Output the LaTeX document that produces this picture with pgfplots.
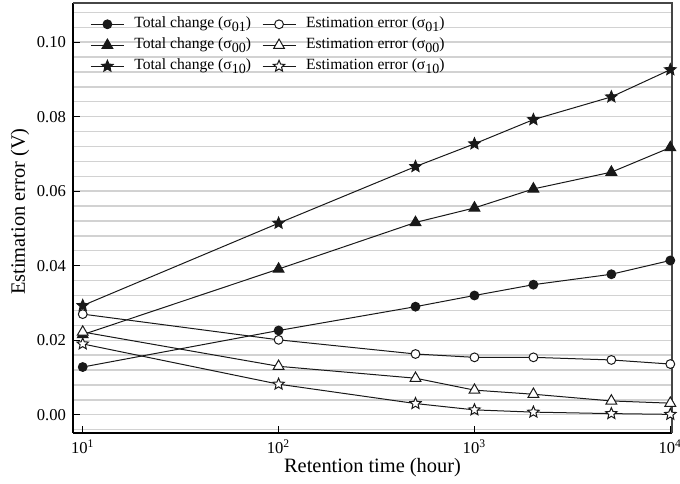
\documentclass[border=0pt]{standalone}
\usepackage{fontspec}
\setmainfont{Liberation Serif}
\usepackage{graphicx}
\usepackage{pgfplots}
\pgfplotsset{compat=1.18}

% five-pointed star outline usable as a filled or open mark
\pgfdeclareplotmark{pstar}{%
  \pgfpathmoveto{\pgfpointpolar{90}{\pgfplotmarksize}}%
  \pgfpathlineto{\pgfpointpolar{126}{0.45\pgfplotmarksize}}%
  \pgfpathlineto{\pgfpointpolar{162}{\pgfplotmarksize}}%
  \pgfpathlineto{\pgfpointpolar{198}{0.45\pgfplotmarksize}}%
  \pgfpathlineto{\pgfpointpolar{234}{\pgfplotmarksize}}%
  \pgfpathlineto{\pgfpointpolar{270}{0.45\pgfplotmarksize}}%
  \pgfpathlineto{\pgfpointpolar{306}{\pgfplotmarksize}}%
  \pgfpathlineto{\pgfpointpolar{342}{0.45\pgfplotmarksize}}%
  \pgfpathlineto{\pgfpointpolar{18}{\pgfplotmarksize}}%
  \pgfpathlineto{\pgfpointpolar{54}{0.45\pgfplotmarksize}}%
  \pgfpathclose
  \pgfusepathqfillstroke}

\newcommand\sig[1]{(σ\raisebox{-0.45ex}{\scalebox{0.9}{#1}})}

\pgfplotstableread{
t      tc01    ee01    tc00    ee00    tc10    ee10
10     0.0128  0.0270  0.0215  0.0222  0.0293  0.0190
100    0.0226  0.0201  0.0391  0.0130  0.0514  0.0082
500    0.0290  0.0163  0.0516  0.0098  0.0666  0.0030
1000   0.0320  0.0154  0.0555  0.0066  0.0727  0.0013
2000   0.0349  0.0154  0.0606  0.0055  0.0792  0.0007
5000   0.0377  0.0147  0.0651  0.0037  0.0853  0.0003
10000  0.0414  0.0136  0.0717  0.0031  0.0926  0.0001
}\retention

\begin{document}
\begin{tikzpicture}
\begin{axis}[
  scale only axis, width=299.5pt, height=215pt,
  xmode=log, xmin=8.92, xmax=10200,
  ymin=-0.0049, ymax=0.1105,
  clip=false,
  axis lines*=left,
  axis line style={line width=0.6pt, black},
  xtick={10,100,1000,10000},
  xticklabels={10\textsuperscript{1},10\textsuperscript{2},10\textsuperscript{3},10\textsuperscript{4}},
  xminorticks=false,
  ytick={0,0.02,0.04,0.06,0.08,0.10},
  yticklabels={0.00,0.02,0.04,0.06,0.08,0.10},
  minor ytick={-0.004,0.004,0.008,0.012,0.016,0.024,0.028,0.032,0.036,0.044,0.048,0.052,0.056,0.064,0.068,0.072,0.076,0.084,0.088,0.092,0.096,0.104,0.108},
  ymajorgrids, yminorgrids,
  grid style={gray!35, line width=0.7pt},
  tick align=inside, major tick length=3.5pt, minor tick length=0pt,
  tick style={black, line width=0.5pt},
  /pgf/number format/assume math mode=true,
  ticklabel style={font=\fontsize{8.3}{10}\selectfont},
  label style={font=\fontsize{10.2}{12}\selectfont},
  xlabel={Retention time (hour)},
  ylabel={Estimation error (V)},
  xlabel style={at={(axis description cs:0.5,-0.081)}, anchor=center},
  ylabel style={at={(axis description cs:-0.0885,0.515)}, anchor=center},
  every axis plot/.append style={line width=0.5pt, color=black!90},
  legend columns=2,
  legend cell align=left,
  legend image code/.code={%
    \draw[mark repeat=2, mark phase=2] plot coordinates {(0pt,0pt) (8.25pt,0pt) (16.5pt,0pt)};},
  legend style={draw=none, fill=none, inner sep=0pt, row sep=0pt,
    at={([xshift=8.5pt, yshift=-5.2pt]rel axis cs:0,1)}, anchor=north west,
    font=\fontsize{7.8}{9}\selectfont,
    nodes={inner sep=0pt, text height=7pt, text depth=3.5pt},
    /tikz/every odd column/.append style={column sep=5pt},
    /tikz/every even column/.append style={column sep=5.5pt}},
]
\draw[gray!55!black, line width=0.6pt] (rel axis cs:0,1) -- (rel axis cs:1,1) -- (rel axis cs:1,0);

\addplot[mark=*, mark size=2.2pt, mark options={fill=black!90}] table[x=t, y=tc01] {\retention};
\addlegendentry{Total change \sig{01}}
\addplot[mark=*, mark size=2.2pt, mark options={fill=white}] table[x=t, y=ee01] {\retention};
\addlegendentry{Estimation error \sig{01}}
\addplot[mark=triangle*, mark size=3.1pt, mark options={fill=black!90}] table[x=t, y=tc00] {\retention};
\addlegendentry{Total change \sig{00}}
\addplot[mark=triangle*, mark size=3.1pt, mark options={fill=white}] table[x=t, y=ee00] {\retention};
\addlegendentry{Estimation error \sig{00}}
\addplot[mark=pstar, mark size=3pt, mark options={fill=black!90}] table[x=t, y=tc10] {\retention};
\addlegendentry{Total change \sig{10}}
\addplot[mark=pstar, mark size=3pt, mark options={fill=white}] table[x=t, y=ee10] {\retention};
\addlegendentry{Estimation error \sig{10}}
\end{axis}
\pgfresetboundingbox
\path ([xshift=-36.5pt, yshift=-25.5pt]current axis.south west)
  rectangle ([xshift=4pt, yshift=1.5pt]current axis.north east);
\end{tikzpicture}
\end{document}
